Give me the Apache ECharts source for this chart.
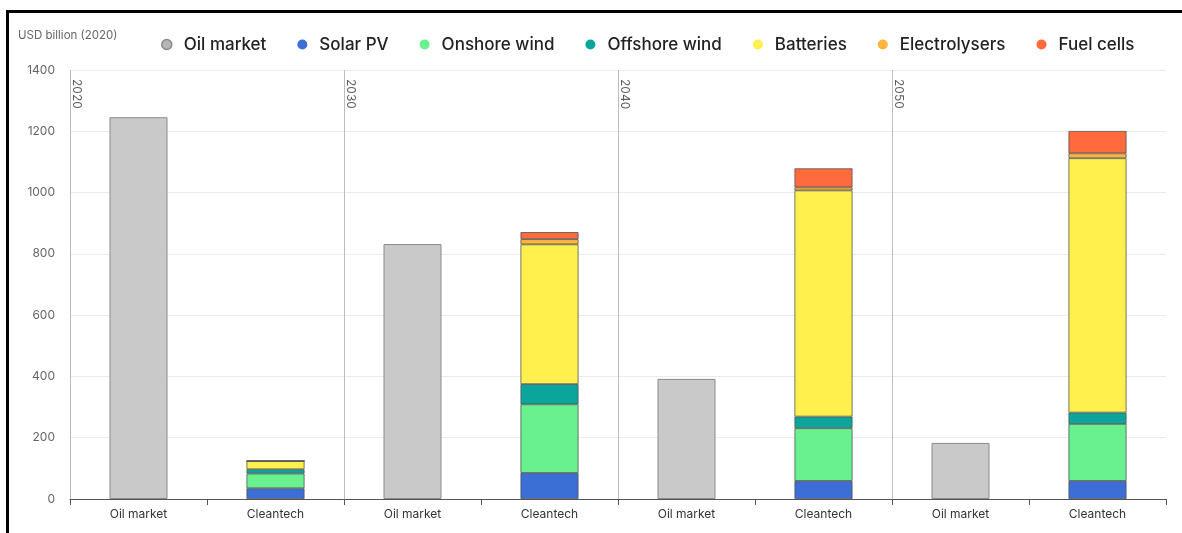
<!DOCTYPE html>
<html>
<head>
<meta charset="utf-8">
<script src="https://cdn.jsdelivr.net/npm/echarts@6/dist/echarts.min.js"></script>
<style>
html,body{margin:0;padding:0;background:#fff;}
#chart{width:1182px;height:533px;}
</style>
</head>
<body>
<div id="chart"></div>
<script>
// ---- data ----
const years = ['2020', '2030', '2040', '2050'];
const barLabels = ['Oil market', 'Cleantech'];
const oilMarket = [1246, 832, 392, 183];
const solarPV = [35, 85, 59, 59];
const onshoreWind = [48, 224, 172, 186];
const offshoreWind = [14, 66, 38, 37];
const batteries = [27, 456, 738, 830];
const electrolysers = [0, 17, 10, 16];
const fuelCells = [0, 23, 62, 73];
const yTicks = [0, 200, 400, 600, 800, 1000, 1200, 1400];

// ---- build ----
const categories = [];
years.forEach(y => barLabels.forEach(b => categories.push(y + '|' + b)));
function oilCol(arr) { const o = []; arr.forEach(v => { o.push(v); o.push('-'); }); return o; }
function cleanCol(arr) { const o = []; arr.forEach(v => { o.push('-'); o.push(v); }); return o; }

const techs = [
  {name: 'Solar PV', data: solarPV, color: '#3b6fd6'},
  {name: 'Onshore wind', data: onshoreWind, color: '#69f08f'},
  {name: 'Offshore wind', data: offshoreWind, color: '#0ba69b'},
  {name: 'Batteries', data: batteries, color: '#fff04d'},
  {name: 'Electrolysers', data: electrolysers, color: '#ffb43c'},
  {name: 'Fuel cells', data: fuelCells, color: '#ff6b3d'}
];

const series = [{
  name: 'Oil market', type: 'bar', stack: 'total', barWidth: 58,
  data: oilCol(oilMarket),
  itemStyle: {color: '#c9c9c9', borderColor: '#8a8a8a', borderWidth: 1}
}];
techs.forEach(t => series.push({
  name: t.name, type: 'bar', stack: 'total', barWidth: 58,
  data: cleanCol(t.data),
  itemStyle: {color: t.color, borderColor: '#555', borderWidth: 0.8}
}));
// year dividers and labels
series.push({
  name: 'years', type: 'scatter', xAxisIndex: 1, yAxisIndex: 0,
  symbolSize: 0, silent: true,
  data: years.map((y, i) => [i * 2, yTicks[yTicks.length - 1], y]),
  label: {
    show: true, formatter: p => p.data[2], position: [7, 9], rotate: -90,
    align: 'left', verticalAlign: 'middle', color: '#333', fontSize: 12,
    fontFamily: 'Inter'
  },
  markLine: {
    silent: true, symbol: ['none', 'none'], label: {show: false},
    lineStyle: {color: '#bdbdbd', width: 1, type: 'solid'},
    data: years.map((y, i) => ({xAxis: i * 2}))
  }
});

const chart = echarts.init(document.getElementById('chart'));
chart.setOption({
  animation: false,
  textStyle: {fontFamily: 'Inter'},
  title: {
    text: 'USD billion (2020)', left: 18, top: 30, padding: 0,
    textStyle: {fontSize: 11.5, fontWeight: 'normal', color: '#666', fontFamily: 'Inter'}
  },
  legend: {
    data: [{name: 'Oil market', itemStyle: {color: '#b5b5b5', borderColor: '#8a8a8a', borderWidth: 1.5}}]
      .concat(techs.map(t => ({name: t.name, itemStyle: {borderWidth: 0}}))),
    top: 31, left: 156, icon: 'circle', itemWidth: 24, itemHeight: 10, itemGap: 31,
    textStyle: {fontSize: 17, fontWeight: 500, color: '#222', fontFamily: 'Inter'}
  },
  grid: {left: 70, right: 16, top: 70, bottom: 34},
  xAxis: [{
    type: 'category', data: categories,
    axisLine: {lineStyle: {color: '#555', width: 1}},
    axisTick: {show: true, interval: 0, length: 6, lineStyle: {color: '#555'}},
    axisLabel: {interval: 0, margin: 9, color: '#333', fontSize: 12, formatter: v => v.split('|')[1]},
    splitLine: {show: false}
  }, {
    type: 'value', min: 0, max: categories.length, show: false
  }],
  yAxis: {
    type: 'value', min: yTicks[0], max: yTicks[yTicks.length - 1], interval: 200,
    axisLine: {show: false}, axisTick: {show: false},
    axisLabel: {color: '#666', fontSize: 12, margin: 15, formatter: v => String(v)},
    splitLine: {lineStyle: {color: '#ebebeb'}}
  },
  graphic: [
    {type: 'rect', shape: {x: 6, y: 10, width: 1176, height: 3}, style: {fill: '#000'}, silent: true},
    {type: 'rect', shape: {x: 6, y: 10, width: 3, height: 523}, style: {fill: '#000'}, silent: true}
  ],
  series: series
});
</script>
</body>
</html>
